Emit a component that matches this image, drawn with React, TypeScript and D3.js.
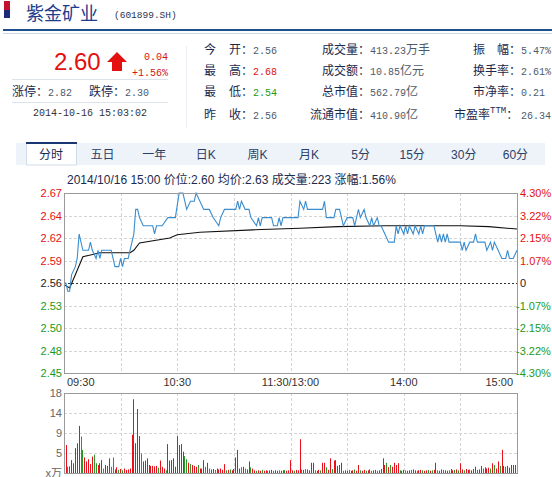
import React from 'react';
import * as d3 from 'd3';

// ---------- data ----------
const stockName = '紫金矿业';
const stockCode = '(601899.SH)';
const lastPrice = '2.60';
const change = '0.04';
const changePct = '+1.56%';
const limitUp = '2.82';
const limitDown = '2.30';
const quoteTime = '2014-10-16 15:03:02';

const col1Labels = [['今', '开'], ['最', '高'], ['最', '低'], ['昨', '收']];
const col1Values = ['2.56', '2.68', '2.54', '2.56'];
const col1Tone = ['neutral', 'up', 'down', 'neutral'];
const col2Labels = ['成交量', '成交额', '总市值', '流通市值'];
const col2Values = ['413.23', '10.85', '562.79', '410.90'];
const col2Units = ['万手', '亿元', '亿', '亿'];
const col3Labels = ['振    幅', '换手率', '市净率', '市盈率'];
const col3Values = ['5.47%', '2.61%', '0.21', '26.34'];

const tabs = ['分时', '五日', '一年', '日K', '周K', '月K', '5分', '15分', '30分', '60分'];
const infoLine = '2014/10/16 15:00 价位:2.60 均价:2.63 成交量:223 涨幅:1.56%';

const prevClose = 2.56;
const priceTickLabels = ['2.67', '2.64', '2.62', '2.59', '2.56', '2.53', '2.50', '2.48', '2.45'];
const pctTickLabels = ['4.30%', '3.22%', '2.15%', '1.07%', '0', '-1.07%', '-2.15%', '-3.22%', '-4.30%'];
const timeLabelMinutes = [0, 60, 120, 180, 240];
const timeLabelTexts = ['09:30', '10:30', '11:30/13:00', '14:00', '15:00'];
const volTickLabels = ['18', '14', '9', '5', 'x万'];

// price line: minute index (0..240) and price
const priceMinutes = [0, 1, 2, 3, 4, 6, 7, 8, 10, 13, 14, 15, 17, 18, 19, 20, 25, 27, 29, 30, 31, 32, 34, 37, 38, 39, 40, 42, 47, 48, 49, 52, 55, 59, 61, 63, 65, 67, 69, 70, 72, 74, 77, 79, 82, 83, 85, 91, 92, 93, 94, 96, 98, 99, 102, 103, 104, 105, 110, 111, 113, 114, 115, 116, 124, 125, 127, 128, 129, 137, 138, 139, 143, 144, 146, 148, 150, 153, 154, 156, 157, 159, 160, 162, 163, 164, 166, 167, 168, 170, 172, 175, 176, 177, 178, 180, 181, 182, 183, 185, 186, 188, 189, 190, 191, 196, 198, 199, 200, 201, 202, 203, 204, 210, 211, 212, 213, 215, 217, 218, 219, 223, 224, 226, 227, 228, 230, 232, 234, 235, 236, 238, 240];
const priceValues = [2.56, 2.56, 2.55, 2.55, 2.57, 2.58, 2.59, 2.62, 2.60, 2.60, 2.61, 2.60, 2.59, 2.60, 2.59, 2.60, 2.60, 2.58, 2.58, 2.59, 2.58, 2.59, 2.59, 2.62, 2.65, 2.65, 2.64, 2.63, 2.63, 2.62, 2.63, 2.63, 2.64, 2.64, 2.67, 2.67, 2.65, 2.66, 2.66, 2.67, 2.66, 2.65, 2.65, 2.64, 2.63, 2.64, 2.65, 2.65, 2.66, 2.65, 2.66, 2.65, 2.65, 2.64, 2.63, 2.64, 2.63, 2.64, 2.64, 2.63, 2.63, 2.64, 2.63, 2.64, 2.64, 2.66, 2.65, 2.66, 2.65, 2.65, 2.66, 2.64, 2.64, 2.65, 2.65, 2.63, 2.64, 2.64, 2.63, 2.65, 2.64, 2.65, 2.64, 2.63, 2.64, 2.63, 2.64, 2.63, 2.63, 2.62, 2.61, 2.61, 2.63, 2.62, 2.63, 2.62, 2.63, 2.62, 2.63, 2.62, 2.63, 2.62, 2.63, 2.62, 2.63, 2.63, 2.61, 2.62, 2.61, 2.62, 2.61, 2.62, 2.61, 2.61, 2.60, 2.61, 2.60, 2.61, 2.61, 2.62, 2.61, 2.61, 2.60, 2.61, 2.60, 2.61, 2.60, 2.59, 2.59, 2.60, 2.59, 2.59, 2.60];

// average price line
const avgMinutes = [0, 3, 6, 10, 19, 35, 37, 40, 56, 60, 72, 100, 125, 145, 170, 210, 225, 240];
const avgValues = [2.558, 2.554, 2.570, 2.592, 2.597, 2.597, 2.600, 2.609, 2.615, 2.619, 2.622, 2.625, 2.627, 2.629, 2.630, 2.630, 2.629, 2.626];

// volume per minute (万)
const volumes = [
  6.3, 1.4, 1.5, 2.9, 2.2, 5.6, 6.7, 10.6, 8.2, 5.2,
  3.5, 2.6, 3.1, 2.0, 3.7, 4.1, 2.2, 1.8, 2.2, 2.9,
  1.0, 1.8, 1.6, 3.3, 1.4, 3.5, 0.8, 1.3, 0.7, 0.9,
  0.6, 1.0, 0.7, 0.8, 1.0, 8.6, 16.6, 6.7, 14.4, 8.3,
  4.4, 2.6, 2.8, 3.3, 1.8, 1.6, 1.6, 1.5, 1.6, 1.2,
  2.8, 1.4, 1.0, 0.6, 6.5, 2.8, 2.9, 3.3, 1.4, 8.3,
  6.3, 6.5, 4.8, 3.8, 3.1, 2.3, 2.0, 1.8, 1.6, 1.4,
  1.8, 1.0, 1.0, 2.9, 1.4, 2.3, 1.0, 0.8, 0.9, 0.7,
  1.0, 0.8, 1.0, 0.7, 2.0, 0.6, 0.7, 0.8, 0.6, 0.9,
  3.5, 5.2, 1.0, 1.3, 1.4, 1.0, 0.8, 2.6, 1.3, 1.0,
  0.6, 0.5, 0.6, 0.5, 0.7, 0.5, 0.6, 0.5, 0.6, 0.7,
  0.5, 0.6, 0.5, 0.6, 0.5, 0.6, 0.7, 0.5, 0.6, 2.9,
  0.6, 0.5, 0.7, 0.6, 7.6, 0.8, 0.7, 0.9, 0.8, 0.6,
  2.3, 2.3, 0.6, 0.5, 0.7, 0.6, 2.3, 2.3, 1.3, 0.7,
  3.3, 0.9, 2.8, 2.9, 1.6, 1.8, 2.3, 0.5, 0.6, 0.5,
  0.7, 0.5, 0.6, 0.8, 0.5, 1.8, 0.6, 0.5, 0.7, 0.5,
  0.6, 0.8, 0.5, 0.6, 0.7, 0.5, 0.6, 0.9, 3.3, 1.8,
  2.3, 1.3, 1.8, 1.4, 2.3, 1.8, 2.2, 0.6, 0.5, 0.7,
  0.6, 0.5, 0.6, 0.7, 0.8, 0.6, 0.5, 0.6, 0.7, 0.6,
  0.5, 0.6, 0.7, 0.5, 0.6, 0.7, 2.3, 0.6, 0.5, 0.8,
  0.7, 0.6, 0.5, 0.6, 0.9, 0.6, 0.7, 0.8, 0.6, 2.2,
  0.8, 0.6, 0.9, 0.7, 0.8, 0.6, 0.9, 1.4, 0.7, 0.8,
  1.6, 1.0, 1.3, 1.0, 1.2, 1.0, 2.2, 1.8, 1.0, 2.6,
  1.6, 5.2, 1.6, 1.4, 1.6, 1.2, 1.8, 1.8, 1.8, 1.9,
];
// r = up (red), g = down (green)
const volumeDirections = (
  'rgrrrrrrgg' + 'rrrrrggrrr' + 'grrrggrrgr' + 'grrrrrrrrr' + 'grrrrrrrrg' +
  'rrrgrrrrrr' + 'rrrggrgrrr' + 'grrrgrgrrg' + 'rrrrrgrgrr' + 'rrrgrgrrgr' +
  'rgrrgrrgrr' + 'grrgrrgrrr' + 'rgrrrgrgrr' + 'rrgrrgrrgr' + 'rgrrrrrgrr' +
  'grrgrrgrrg' + 'rrgrrgrrrr' + 'grgrrrrgrr' + 'grrgrrgrrg' + 'rrgrgrrgrr' +
  'grrgrrgrgr' + 'rgrrgrrrgr' + 'rgrrrgrgrr' + 'grrgrrrrrr'
).split('');

// ---------- styles ----------
const SANS = '"Liberation Sans", Arial, sans-serif';
const MONO = '"Liberation Mono", "DejaVu Sans Mono", monospace';
const CJK = '"Noto Sans CJK SC", sans-serif';
const MIX = '"Liberation Sans", "Noto Sans CJK SC", sans-serif';
const RED = '#e3100f';
const GREEN = '#1a9a1a';
const NAVY = '#1b2a4e';
const GREY = '#4e5a6c';

export default function App() {
  const plotL = 64, plotR = 517, plotT = 193, plotB = 373;
  const volT = 393, volB = 473;

  const x = d3.scaleLinear().domain([0, 240]).range([plotL, plotR]);
  const yP = d3.scaleLinear()
    .domain([prevClose * (1 - 0.043), prevClose * (1 + 0.043)])
    .range([plotB, plotT]);
  const yTick = d3.scaleLinear().domain([0, 8]).range([plotT, plotB]);
  const yV = d3.scaleLinear().domain([0, 18]).range([volB, volT]);
  const yVTick = d3.scaleLinear().domain([0, 4]).range([volT, volB]);

  const line = d3.line<[number, number]>().x(d => x(d[0])).y(d => yP(d[1]));
  const pricePts = priceMinutes.map((m, i) => [m, priceValues[i]] as [number, number]);
  const avgPts = avgMinutes.map((m, i) => [m, avgValues[i]] as [number, number]);

  const gridXs = d3.range(1, 8).map(k => x(k * 30));
  const tickColor = (i: number) => (i < 4 ? RED : i === 4 ? '#222' : GREEN);

  const rowY = [54, 75, 96, 119];

  return (
    <svg width={552} height={477} style={{ position: 'absolute', left: 0, top: 0, display: 'block', background: '#fff' }}>
      {/* ---------- title ---------- */}
      <rect x={4} y={1} width={6} height={9} fill="#c3122f" />
      <rect x={4} y={10} width={6} height={8} fill="#1b2b78" />
      <text x={26} y={20} fontFamily={CJK} fontSize={18} fill="#203c8c">{stockName}</text>
      <text x={114} y={18} fontFamily={MONO} fontSize={9.5} fill="#2a3550">{stockCode}</text>
      <rect x={3} y={29} width={549} height={2} fill="#1f4f8c" />
      <rect x={3} y={33} width={549} height={1} fill="#c9d8ea" />

      {/* ---------- big price ---------- */}
      <text x={54} y={70} fontFamily={SANS} fontSize={24} fill={RED}>{lastPrice}</text>
      <path d="M107,62 L117,52 L127,62 L122,62 L122,71 L112,71 L112,62 Z" fill={RED} />
      <text x={168} y={60} textAnchor="end" fontFamily={MONO} fontSize={10} fill="#d0151a">{change}</text>
      <text x={168} y={76} textAnchor="end" fontFamily={MONO} fontSize={10} fill="#d0151a">{changePct}</text>
      <line x1={12} x2={168} y1={79.5} y2={79.5} stroke="#dde3ea" />
      <text y={96}>
        <tspan x={12} fontFamily={CJK} fontSize={12} fill={NAVY}>涨停：</tspan>
        <tspan fontFamily={MONO} fontSize={10} fill={GREY}>{limitUp}</tspan>
        <tspan x={89} fontFamily={CJK} fontSize={12} fill={NAVY}>跌停：</tspan>
        <tspan fontFamily={MONO} fontSize={10} fill={GREY}>{limitDown}</tspan>
      </text>
      <line x1={12} x2={168} y1={102.5} y2={102.5} stroke="#dde3ea" />
      <text x={33} y={116} fontFamily={MONO} fontSize={10} fill="#333">{quoteTime}</text>
      <line x1={186.5} x2={186.5} y1={46} y2={128} stroke="#eceff3" />

      {/* ---------- stats ---------- */}
      {col1Labels.map((lab, i) => (
        <g key={'c1' + i}>
          <text x={204} y={rowY[i]} fontFamily={CJK} fontSize={12} fill={NAVY}>{lab[0]}</text>
          <text x={229} y={rowY[i]} fontFamily={CJK} fontSize={12} fill={NAVY}>{lab[1]}：</text>
          <text x={253} y={rowY[i]} fontFamily={MONO} fontSize={10}
            fill={col1Tone[i] === 'up' ? RED : col1Tone[i] === 'down' ? GREEN : GREY}>{col1Values[i]}</text>
        </g>
      ))}
      {col2Labels.map((lab, i) => (
        <g key={'c2' + i}>
          <text x={370} y={rowY[i]} textAnchor="end" fontFamily={CJK} fontSize={12} fill={NAVY}>{lab}：</text>
          <text x={370} y={rowY[i]}>
            <tspan fontFamily={MONO} fontSize={10} fill={GREY}>{col2Values[i]}</tspan>
            <tspan fontFamily={CJK} fontSize={12} fill={GREY}>{col2Units[i]}</tspan>
          </text>
        </g>
      ))}
      {col3Labels.map((lab, i) => (
        <g key={'c3' + i}>
          {i === 0 ? (
            <>
              <text x={473} y={rowY[i]} fontFamily={CJK} fontSize={12} fill={NAVY}>振</text>
              <text x={497} y={rowY[i]} fontFamily={CJK} fontSize={12} fill={NAVY}>幅：</text>
            </>
          ) : i === 3 ? (
            <text x={454} y={rowY[i]} fontFamily={CJK} fontSize={12} fill={NAVY}>
              {lab}
              <tspan fontFamily={MONO} fontSize={9} dy={-6}>TTM</tspan>
              <tspan dy={6}>：</tspan>
            </text>
          ) : (
            <text x={521} y={rowY[i]} textAnchor="end" fontFamily={CJK} fontSize={12} fill={NAVY}>{lab}：</text>
          )}
          <text x={521} y={rowY[i]} fontFamily={MONO} fontSize={10} fill={GREY}>{col3Values[i]}</text>
        </g>
      ))}

      {/* ---------- tabs ---------- */}
      <rect x={16} y={143} width={529} height={22} fill="#eef3f9" />
      <rect x={26.5} y={143} width={50} height={22} fill="#fff" stroke="#d3dde9" />
      <rect x={26} y={142} width={51} height={2} fill="#1b3672" />
      {tabs.map((t, i) => (
        <text key={t} x={51 + i * 51.6} y={159} textAnchor="middle"
          fontFamily={MIX} fontSize={12} fill={i === 0 ? NAVY : '#2b3f66'}>{t}</text>
      ))}
      <text x={67} y={184} fontFamily={MIX} fontSize={12} fill={NAVY}>{infoLine}</text>

      {/* ---------- price chart ---------- */}
      {priceTickLabels.map((_, i) => (i === 0 || i === 8 || i === 4 ? null : (
        <line key={'hg' + i} x1={plotL} x2={plotR} y1={Math.round(yTick(i)) + 0.5} y2={Math.round(yTick(i)) + 0.5}
          stroke="#d4d4d4" strokeDasharray="3,2" />
      )))}
      {gridXs.map((gx, i) => (
        <line key={'vg' + i} x1={Math.round(gx) + 0.5} x2={Math.round(gx) + 0.5} y1={plotT} y2={plotB}
          stroke="#d4d4d4" strokeDasharray="3,2" />
      ))}
      <line x1={plotL} x2={plotR} y1={Math.round(yP(prevClose)) + 0.5} y2={Math.round(yP(prevClose)) + 0.5}
        stroke="#333" strokeDasharray="2,2" />
      <path d={line(avgPts) || ''} fill="none" stroke="#111" strokeWidth={1.1} />
      <path d={line(pricePts) || ''} fill="none" stroke="#3a8dcf" strokeWidth={1.1} />
      <rect x={plotL + 0.5} y={plotT + 0.5} width={plotR - plotL} height={plotB - plotT} fill="none" stroke="#9a9a9a" />

      {priceTickLabels.map((t, i) => (
        <text key={'pl' + i} x={62} y={yTick(i) + 4} textAnchor="end" fontFamily={SANS} fontSize={11}
          fill={tickColor(i)}>{t}</text>
      ))}
      {pctTickLabels.map((t, i) => (
        <text key={'pr' + i} x={i >= 5 ? 516 : 520} y={yTick(i) + 4} fontFamily={SANS} fontSize={11}
          fill={tickColor(i)}>{t}</text>
      ))}
      {timeLabelTexts.map((t, i) => (
        <text key={'tl' + i} x={i === 0 ? x(timeLabelMinutes[i]) + 3 : i === 4 ? x(timeLabelMinutes[i]) - 4 : x(timeLabelMinutes[i])}
          y={386} textAnchor={i === 0 ? 'start' : i === 4 ? 'end' : 'middle'}
          fontFamily={SANS} fontSize={11} fill="#333">{t}</text>
      ))}

      {/* ---------- volume chart ---------- */}
      {[1, 2, 3].map(k => (
        <line key={'vh' + k} x1={plotL} x2={plotR} y1={Math.round(yVTick(k)) + 0.5} y2={Math.round(yVTick(k)) + 0.5}
          stroke="#d4d4d4" strokeDasharray="3,2" />
      ))}
      {gridXs.map((gx, i) => (
        <line key={'vv' + i} x1={Math.round(gx) + 0.5} x2={Math.round(gx) + 0.5} y1={volT} y2={volB}
          stroke="#d4d4d4" strokeDasharray="3,2" />
      ))}
      {volumes.map((v, i) => {
        const bx = Math.round(x(i + 0.8));
        const top = yV(v);
        return (
          <rect key={'vb' + i} x={bx} y={top} width={1} height={volB - top}
            fill={volumeDirections[i] === 'g' ? '#2a982a' : '#e8101a'} />
        );
      })}
      <rect x={plotL + 0.5} y={volT + 0.5} width={plotR - plotL} height={volB - volT} fill="none" stroke="#9a9a9a" />
      {volTickLabels.map((t, i) => (
        <text key={'vl' + i} x={62} y={yVTick(i) + 4} textAnchor="end"
          fontFamily={MIX} fontSize={11} fill="#666">{t}</text>
      ))}
      <text x={268} y={486} fontFamily={SANS} fontSize={12} fill="#1e6fc0">1:15,000</text>
    </svg>
  );
}
